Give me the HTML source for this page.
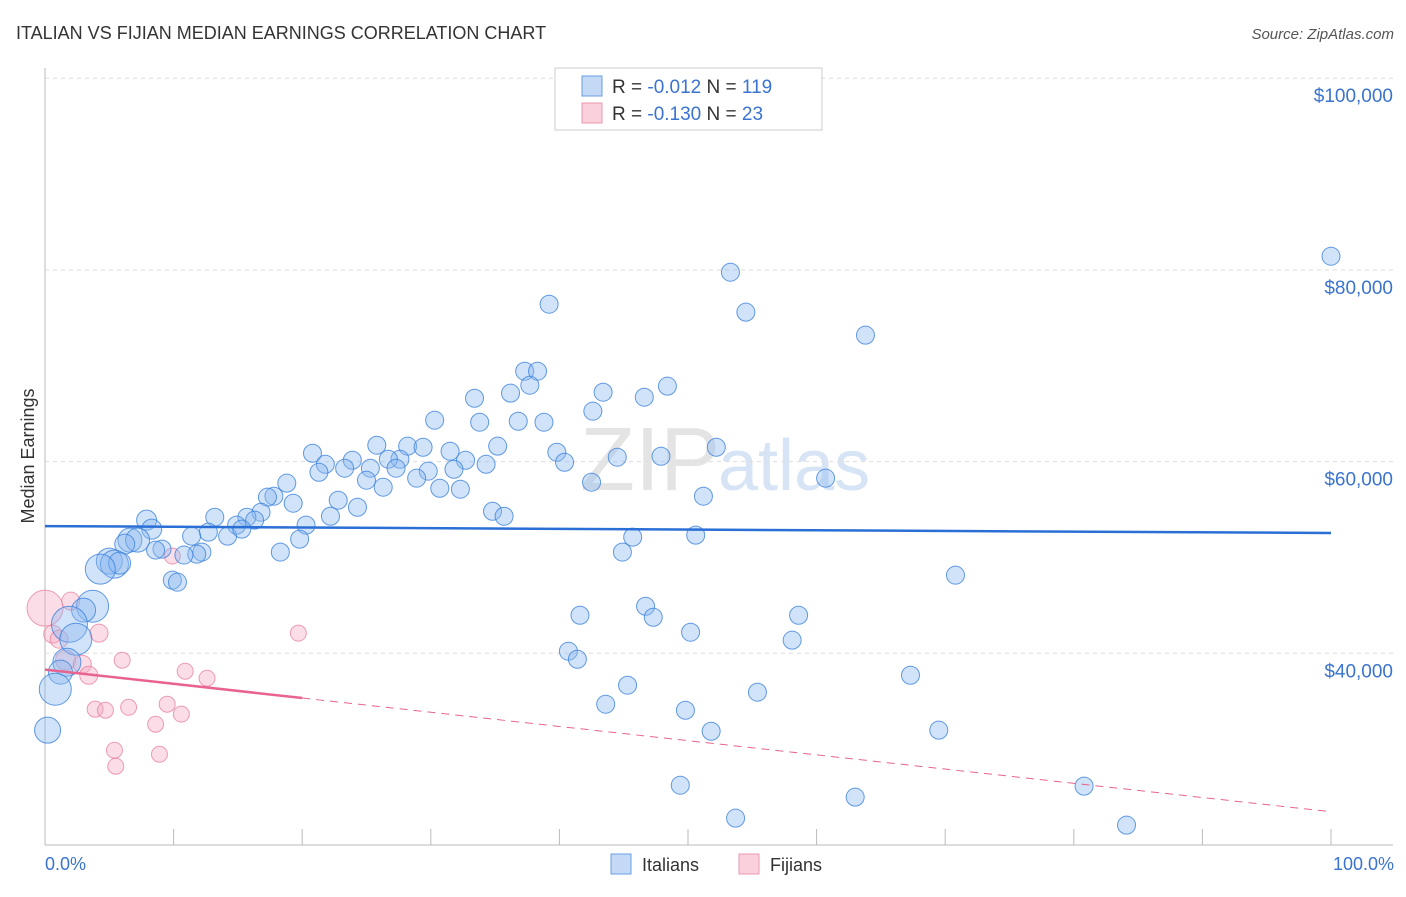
<!DOCTYPE html>
<html><head><meta charset="utf-8"><style>
body{margin:0;background:#fff;font-family:"Liberation Sans",sans-serif}
svg text{font-family:"Liberation Sans",sans-serif}
</style></head><body>
<svg id="c" width="1406" height="892">
<text x="16" y="39" font-size="18" fill="#333">ITALIAN VS FIJIAN MEDIAN EARNINGS CORRELATION CHART</text>
<text x="1394" y="39" font-size="15" fill="#555" font-style="italic" text-anchor="end">Source: ZipAtlas.com</text>
<text x="720" y="490" font-size="90" fill="#e4e4e4" text-anchor="end" font-family="Liberation Serif">ZIP</text>
<text x="718" y="490" font-size="72" fill="#d6e4f5">atlas</text>
<g id="grid"></g><g id="marks"></g>
<text transform="translate(34,456) rotate(-90)" font-size="18" fill="#333" text-anchor="middle">Median Earnings</text>
<text x="45" y="870" font-size="18" fill="#3a74d0">0.0%</text>
<text x="1394" y="870" font-size="18" fill="#3a74d0" text-anchor="end">100.0%</text>
<g>
<rect x="555" y="68" width="267" height="62" fill="#fff" stroke="#ccc"/>
<rect x="582" y="76" width="20" height="20" fill="#c4d9f5" stroke="#6a9ee0"/>
<rect x="582" y="103" width="20" height="20" fill="#fad0dc" stroke="#e89ab0"/>
<text x="612" y="93" font-size="19" fill="#333">R = <tspan fill="#3a74d0">-0.012</tspan>   N = <tspan fill="#3a74d0">119</tspan></text>
<text x="612" y="120" font-size="19" fill="#333">R = <tspan fill="#3a74d0">-0.130</tspan>   N =  <tspan fill="#3a74d0">23</tspan></text>
</g>
<g>
<rect x="611" y="854" width="20" height="20" fill="#c4d9f5" stroke="#6a9ee0"/>
<text x="642" y="871" font-size="18" fill="#333">Italians</text>
<rect x="739" y="854" width="20" height="20" fill="#fad0dc" stroke="#e89ab0"/>
<text x="770" y="871" font-size="18" fill="#333">Fijians</text>
</g>
</svg>
<script>
const yTicks=[40000,60000,80000,100000];
const yTickLabels=["$40,000","$60,000","$80,000","$100,000"];
const itX=[100,53.3,39.2,54.5,63.8,37.3,38.3,37.7,48.4,43.4,36.2,33.4,46.6,42.6,30.3,36.8,38.8,33.8,25.8,28.2,29.4,35.2,52.2,20.8,31.5,39.8,44.5,47.9,23.9,21.8,27.6,26.7,32.7,40.4,34.3,23.3,25.3,27.3,21.3,29.8,31.8,25.0,28.9,42.5,60.7,18.8,26.3,30.7,32.3,17.8,51.2,17.3,22.8,19.3,24.3,34.8,16.8,35.7,22.2,15.7,13.2,16.3,7.9,14.9,20.3,8.3,12.7,14.2,15.3,11.4,45.7,50.6,19.8,6.6,7.2,6.2,9.1,18.3,12.2,11.8,10.8,8.6,44.9,5.0,5.4,5.8,4.3,70.8,9.9,10.3,3.7,3.0,46.7,41.6,58.6,47.3,1.9,50.2,58.1,2.4,40.7,41.4,1.7,1.2,67.3,45.3,55.4,0.8,43.6,49.8,51.8,69.5,0.2,49.4,63.0,80.8,53.7,84.1];
const itY=[81430,79760,76420,75590,73190,69430,69430,67970,67870,67240,67140,66610,66720,65260,64320,64210,64110,64110,61710,61610,61500,61610,61500,60870,61080,60980,60460,60560,60140,59720,60250,60250,60140,59930,59720,59310,59310,59310,58890,59000,59200,58060,58270,57850,58270,57750,57330,57220,57120,56390,56390,56290,55970,55660,55240,54820,54720,54300,54300,54200,54200,53890,53890,53370,53370,52950,52640,52220,52950,52220,52120,52330,51910,51810,51810,51390,50870,50560,50560,50350,50250,50770,50560,49620,49310,49410,48780,48150,47630,47420,44910,44500,44910,43970,43970,43760,43030,42200,41370,41470,40220,39380,39070,38030,37710,36670,35940,36250,34690,34060,31870,31980,31980,26240,24990,26140,22800,22070];
const itR=[9,9,9,9,9,9,9,9,9,9,9,9,9,9,9,9,9,9,9,9,9,9,9,9,9,9,9,9,9,9,9,9,9,9,9,9,9,9,9,9,9,9,9,9,9,9,9,9,9,9,9,9,9,9,9,9,9,9,9,9,9,9,10,9,9,10,9,9,9,9,9,9,9,12,12,10,9,9,9,9,9,9,9,13,14,11,15,9,9,9,16,12,9,9,9,9,18,9,9,16,9,9,14,12,9,9,9,16,9,9,9,9,13,9,9,9,9,9];
const fjX=[0,2.0,0.6,1.1,4.2,9.9,19.7,1.6,2.9,6.0,3.4,10.9,12.6,3.9,4.7,6.5,9.5,10.6,8.6,5.4,8.9,5.5];
const fjY=[44710,45440,42000,41470,42100,50150,42100,39280,38860,39280,37710,38130,37400,34170,34060,34370,34690,33650,32600,29890,29470,28220];
const fjR=[18,9,9,9,9,8,8,10,9,8,9,8,8,8,8,8,8,8,8,8,8,8];
const trendIt=[53270,52550];
const trendFj=[38300,23470];
const X=v=>45+v*12.86;
const Y=v=>845-(v-20000)*191.7/20000;
const NS="http://www.w3.org/2000/svg";
function mk(t,a,p){const e=document.createElementNS(NS,t);for(const k in a)e.setAttribute(k,a[k]);p.appendChild(e);return e;}
const grid=document.getElementById('grid'),marks=document.getElementById('marks');
const ax=mk('line',{x1:45,y1:68,x2:45,y2:845,stroke:'#bbb'},grid);


const bx=mk('line',{x1:45,y1:845,x2:1393,y2:845,stroke:'#bbb'},grid);


for(let i=0;i<=10;i++){const t=mk('line',{x1:X(i*10),y1:829,x2:X(i*10),y2:845,stroke:'#bbb'},grid);

}
yTicks.forEach((v,i)=>{const g=mk('line',{x1:45,y1:Y(v),x2:1393,y2:Y(v),stroke:'#ddd','stroke-dasharray':'4,4'},grid);


const t=mk('text',{x:1393,y:Y(v)+24,'font-size':19,fill:'#3a74d0','text-anchor':'end'},grid);t.textContent=yTickLabels[i];

});
fjX.forEach((x,i)=>{const c=mk('circle',{cx:X(x),cy:Y(fjY[i]),r:fjR[i],fill:'rgba(245,170,195,0.4)',stroke:'rgba(230,120,150,0.7)'},marks);

});
itX.forEach((x,i)=>{const c=mk('circle',{cx:X(x),cy:Y(itY[i]),r:itR[i],fill:'rgba(140,185,240,0.4)',stroke:'rgba(60,130,220,0.8)'},marks);

});
const l1=mk('line',{x1:X(0),y1:Y(trendIt[0]),x2:X(100),y2:Y(trendIt[1]),stroke:'#2a6fd6','stroke-width':2.5},marks);


const fy=x=>trendFj[0]+(trendFj[1]-trendFj[0])*x/100;
const l2=mk('line',{x1:X(0),y1:Y(fy(0)),x2:X(20),y2:Y(fy(20)),stroke:'#e8638f','stroke-width':2.5},marks);


const l3=mk('line',{x1:X(20),y1:Y(fy(20)),x2:X(100),y2:Y(fy(100)),stroke:'#e8638f','stroke-width':1,'stroke-dasharray':'8,6'},marks);


</script>
</body></html>
